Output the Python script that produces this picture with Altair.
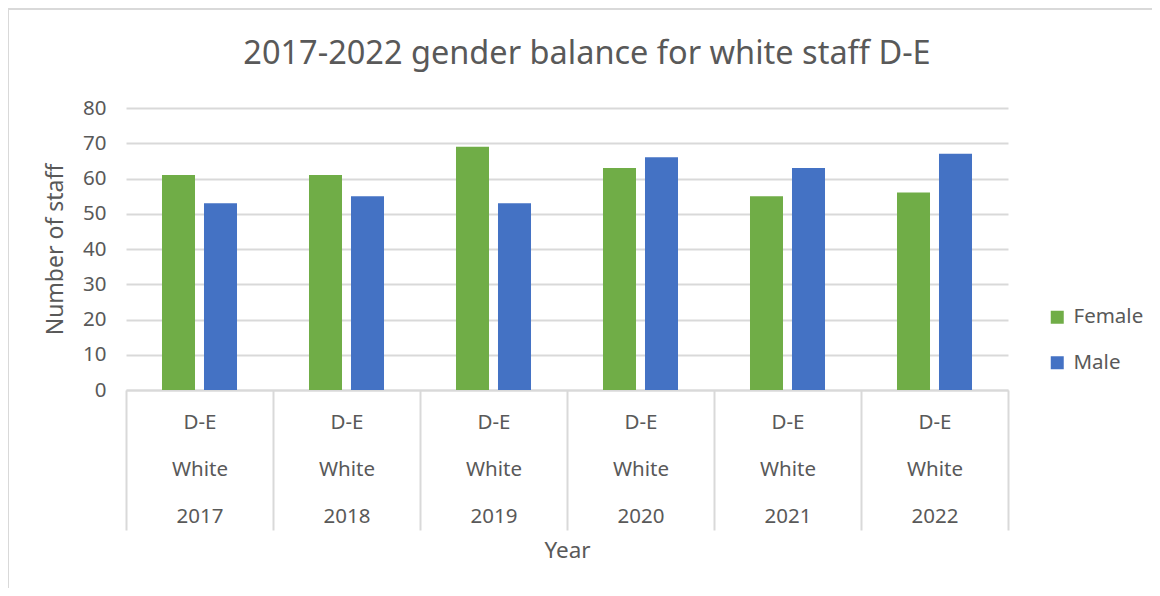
import altair as alt
import pandas as pd

years = ["2017", "2018", "2019", "2020", "2021", "2022"]
female = [61, 61, 69, 63, 55, 56]
male = [53, 55, 53, 66, 63, 67]
genders = ["Female", "Male"]
colors = ["#70AD47", "#4472C4"]

rows = []
for i, yr in enumerate(years):
    rows.append({"year": yr, "gender": "Female", "count": female[i]})
    rows.append({"year": yr, "gender": "Male", "count": male[i]})
df = pd.DataFrame(rows)

W, H = 882, 282
tc = "#595959"
gc = "#d9d9d9"
font = "Noto Sans"
lfs = 20.5

border = alt.Chart(pd.DataFrame({"a": [0]})).mark_rect(
    fill="transparent", stroke=gc, strokeWidth=2
).encode(x=alt.value(-118), x2=alt.value(1200), y=alt.value(-99), y2=alt.value(700))

bars = alt.Chart(df).mark_bar().encode(
    x=alt.X("year:N", sort=years, title="Year",
            scale=alt.Scale(paddingInner=0, paddingOuter=0),
            axis=alt.Axis(labelExpr="datum.label ? ['D-E', 'White', datum.label] : ''",
                          tickBand="extent",
                          tickSize=140, tickColor=gc, tickWidth=2, domainColor=gc, domainWidth=2,
                          labelAngle=0, labelPadding=-118, labelLineHeight=47, labelFontSize=lfs,
                          labelColor=tc, labelFont=font, titleFont=font, titleFontSize=22.5,
                          titleColor=tc, titleFontWeight="normal", titlePadding=8, grid=False)),
    xOffset=alt.XOffset("gender:N", sort=genders,
                        scale=alt.Scale(paddingInner=0.214, paddingOuter=0.857)),
    y=alt.Y("count:Q", title="Number of staff", scale=alt.Scale(domain=[0, 80]),
            axis=alt.Axis(values=list(range(0, 81, 10)), ticks=False, domain=False,
                          gridColor=gc, gridWidth=2, labelFontSize=lfs, labelColor=tc,
                          labelFont=font, labelPadding=20, titleFont=font, titleFontSize=23,
                          titleColor=tc, titleFontWeight="normal", titlePadding=15)),
    color=alt.Color("gender:N", scale=alt.Scale(domain=genders, range=colors),
                    legend=alt.Legend(title=None, orient="none", legendX=921, legendY=199,
                                      padding=0, symbolType="square", symbolSize=169,
                                      symbolStrokeWidth=0, symbolOpacity=1, labelFontSize=lfs,
                                      labelColor=tc, labelFont=font, labelOffset=6,
                                      rowPadding=24.5)),
)

chart = alt.layer(border, bars).properties(
    width=W, height=H,
    title=alt.Title("2017-2022 gender balance for white staff D-E", fontSize=32.5, font=font,
                    color=tc, fontWeight="normal", anchor="middle", dx=20, offset=-88,
                    baseline="alphabetic"),
    autosize=alt.AutoSizeParams(type="none"),
    padding={"left": 118, "top": 100, "right": 144, "bottom": 198},
).configure_view(strokeWidth=0)

chart.save("out.html", embed_options={"renderer": "svg", "actions": False})
